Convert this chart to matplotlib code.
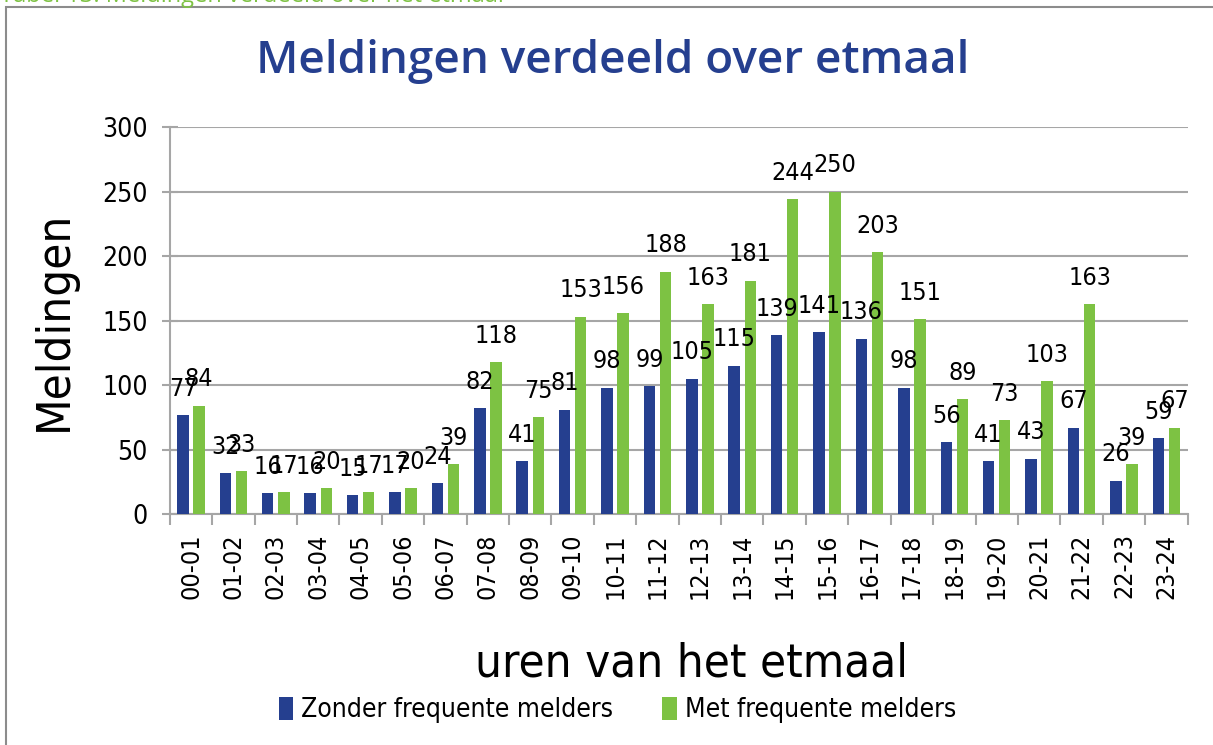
import numpy as np
import matplotlib
matplotlib.use("Agg")
import matplotlib.pyplot as plt
from matplotlib.patches import Rectangle

plt.rcParams["font.family"] = ["DejaVu Sans"]
plt.rcParams["font.stretch"] = "condensed"

hours = ["00-01", "01-02", "02-03", "03-04", "04-05", "05-06", "06-07", "07-08",
         "08-09", "09-10", "10-11", "11-12", "12-13", "13-14", "14-15", "15-16",
         "16-17", "17-18", "18-19", "19-20", "20-21", "21-22", "22-23", "23-24"]
zonder = [77, 32, 16, 16, 15, 17, 24, 82, 41, 81, 98, 99, 105, 115, 139, 141,
          136, 98, 56, 41, 43, 67, 26, 59]
met = [84, 33, 17, 20, 17, 20, 39, 118, 75, 153, 156, 188, 163, 181, 244, 250,
       203, 151, 89, 73, 103, 163, 39, 67]

BLUE = "#253f8f"
GREEN = "#7dc243"
GRID = "#a6a6a6"

fig = plt.figure(figsize=(12.13, 7.45), dpi=100)
ax = fig.add_axes([0.140, 0.310, 0.839, 0.5195])

x = np.arange(len(hours))
w = 0.27
b1 = ax.bar(x - 0.19, zonder, w, color=BLUE, label="Zonder frequente melders", zorder=3)
b2 = ax.bar(x + 0.19, met, w, color=GREEN, label="Met frequente melders", zorder=3)

for bars in (b1, b2):
    for r in bars:
        ax.text(r.get_x() + r.get_width() / 2, r.get_height() + 11, str(int(r.get_height())),
                ha="center", va="bottom", fontsize=18, zorder=4)

ax.set_xlim(-0.5, len(hours) - 0.5)
ax.set_ylim(0, 300)
ax.set_yticks(range(0, 301, 50))
ax.yaxis.grid(True, color=GRID, linewidth=1.5, zorder=0)
ax.set_axisbelow(True)

ax.set_xticks(x)
ax.set_xticklabels(hours, rotation=90, fontsize=18)
ax.set_xticks(np.arange(-0.5, len(hours)), minor=True)
ax.tick_params(axis="x", which="major", length=0, pad=14)
ax.tick_params(axis="x", which="minor", length=8, color=GRID, width=1.5)
ax.tick_params(axis="y", direction="inout", length=12, color=GRID, width=1.5,
               labelsize=19, pad=10)

for s in ("top", "right"):
    ax.spines[s].set_visible(False)
for s in ("left", "bottom"):
    ax.spines[s].set_color(GRID)
    ax.spines[s].set_linewidth(1.5)

ax.set_ylabel("Meldingen", fontsize=34)
ax.yaxis.set_label_coords(-0.091, 0.5)
ax.set_xlabel("uren van het etmaal", fontsize=34)
ax.xaxis.set_label_coords(0.513, -0.33)

fig.text(0.505, 0.917, "Meldingen verdeeld over etmaal", ha="center", va="center",
         fontsize=33, color=BLUE, fontweight="semibold", fontstretch="normal",
         family=["Open Sans", "DejaVu Sans"])

fig.text(0.0, 1 - 1.5 / 745, "Tabel 13: Meldingen verdeeld over het etmaal", ha="left",
         va="baseline", fontsize=17, color=GREEN, fontstretch="normal",
         family=["Open Sans", "DejaVu Sans"])

fig.add_artist(Rectangle((6 / 1213, -0.1), 2, 1.1 - 7 / 745, transform=fig.transFigure,
                         fill=False, edgecolor="#8c8c8c", linewidth=1.5))

fig.legend(loc="center", bbox_to_anchor=(0.509, 0.047), ncol=2, frameon=False,
           fontsize=19, handlelength=0.55, handleheight=1.0, handletextpad=0.3,
           columnspacing=1.85)

fig.savefig("out.png", dpi=100)
